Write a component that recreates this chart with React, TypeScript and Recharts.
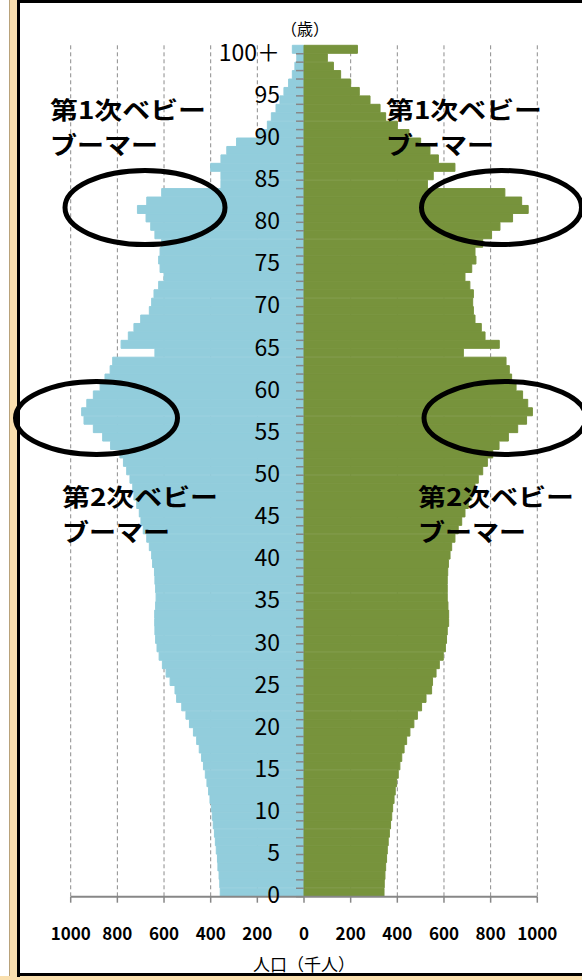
import { Bar, BarChart, CartesianGrid, Label, ReferenceLine, XAxis, YAxis } from 'recharts';

// age categories, bottom (0) to top (100+)
const ages: string[] = Array.from({ length: 100 }, (_, i) => String(i)).concat('100＋');

// population in thousands, index = age
const male = [
  359, 361, 364, 369, 371, 376, 380, 384, 389, 393,
  397, 403, 409, 416, 423, 431, 439, 449, 460, 474,
  491, 506, 524, 546, 553, 574, 591, 607, 621, 630,
  636, 639, 640, 640, 636, 634, 636, 639, 641, 649,
  653, 663, 674, 689, 699, 706, 717, 729, 734, 746,
  760, 774, 789, 829, 863, 903, 943, 953, 931, 903,
  874, 853, 831, 820, 639, 784, 753, 729, 700, 663,
  653, 643, 623, 600, 617, 623, 617, 610, 639, 657,
  677, 714, 674, 610, 356, 356, 400, 356, 331, 289,
  200, 157, 140, 120, 103, 86, 66, 50, 39, 31,
  50,
];

const female = [
  343, 344, 347, 350, 354, 357, 361, 366, 371, 376,
  380, 386, 391, 397, 404, 411, 419, 429, 440, 454,
  471, 486, 504, 523, 547, 551, 566, 580, 597, 606,
  611, 614, 620, 620, 617, 614, 614, 614, 616, 619,
  626, 633, 647, 661, 676, 690, 704, 719, 733, 747,
  766, 786, 809, 836, 876, 916, 954, 979, 959, 937,
  909, 890, 880, 866, 683, 837, 776, 760, 733, 726,
  723, 726, 711, 690, 719, 737, 733, 766, 804, 840,
  894, 961, 933, 861, 529, 554, 647, 576, 540, 500,
  450, 400, 350, 326, 283, 237, 200, 157, 126, 100,
  229,
];

const xTicks = [-1000, -800, -600, -400, -200, 0, 200, 400, 600, 800, 1000];

const rows = ages.map((age, i) => ({ age, male: -male[i], female: female[i] }));

const W = 582;
const H = 980;
const PLOT_LEFT = 70.7;
const PLOT_RIGHT = 537.3;
const PLOT_TOP = 45.3;
const PLOT_BOTTOM = 896.7;
const X_AXIS_H = 60;
const CENTER_X = (PLOT_LEFT + PLOT_RIGHT) / 2;
const BAND = (PLOT_BOTTOM - PLOT_TOP) / ages.length;

const font = '"Noto Sans CJK JP", "Noto Sans", sans-serif';
const axisGray = '#878787';
const blue = '#92cddc';
const green = '#77933c';

function AgeTick(props: any) {
  const { y, payload } = props;
  const label: string = payload.value;
  const showLabel = parseInt(label, 10) % 5 === 0;
  return (
    <g>
      <line x1={CENTER_X - 8} x2={CENTER_X} y1={y + BAND / 2} y2={y + BAND / 2} stroke={axisGray} strokeWidth={1.5} />
      {showLabel && (
        <text x={CENTER_X - 24} y={y + 1} textAnchor="end" dominantBaseline="central" fontSize={23} fill="#000" fontFamily={font}>
          {label}
        </text>
      )}
    </g>
  );
}

const notes = [
  { x: 50, y: 108, lines: ['第1次ベビー', 'ブーマー'] },
  { x: 386, y: 108, lines: ['第1次ベビー', 'ブーマー'] },
  { x: 62, y: 495, lines: ['第2次ベビー', 'ブーマー'] },
  { x: 418, y: 495, lines: ['第2次ベビー', 'ブーマー'] },
];
const noteWidths = [156, 108];

const rings = [
  { cx: 145, cy: 207.5, rx: 80, ry: 37 },
  { cx: 501.5, cy: 207.5, rx: 80, ry: 37 },
  { cx: 96.5, cy: 418, rx: 81, ry: 36.5 },
  { cx: 505, cy: 418, rx: 81, ry: 36.5 },
];

const chartMargin = { top: PLOT_TOP, left: PLOT_LEFT, right: W - PLOT_RIGHT, bottom: H - PLOT_BOTTOM - X_AXIS_H };

export default function App() {
  return (
    <div style={{ position: 'absolute', left: 0, top: 0, width: W, height: H, background: '#fff', overflow: 'hidden' }}>
      {/* frame */}
      <div style={{ position: 'absolute', left: 9, top: 0, width: 8, height: H, background: '#f9dfae', borderLeft: '1px solid #b9a27a' }} />
      <div style={{ position: 'absolute', left: 0, top: 976, width: W, height: 4, background: '#f9dfae' }} />
      <div style={{ position: 'absolute', left: 17, top: 0, width: 3, height: 977, background: '#000' }} />
      <div style={{ position: 'absolute', left: 17, top: 0, width: W, height: 3, background: '#000' }} />
      <div style={{ position: 'absolute', left: 17, top: 973, width: W, height: 3, background: '#000' }} />

      {/* bars, grid, x axis */}
      <div style={{ position: 'absolute', left: 0, top: 0 }}>
        <BarChart
          width={W}
          height={H}
          data={rows}
          layout="vertical"
          stackOffset="sign"
          barCategoryGap={0}
          barGap={0}
          margin={chartMargin}
        >
          <CartesianGrid horizontal={false} stroke="#8c8c8c" strokeDasharray="4 3" />
          <Bar dataKey="male" stackId="pop" fill={blue} stroke={blue} strokeWidth={1} isAnimationActive={false} />
          <Bar dataKey="female" stackId="pop" fill={green} stroke={green} strokeWidth={1} isAnimationActive={false} />
          <XAxis
            type="number"
            domain={[-1000, 1000]}
            ticks={xTicks}
            interval={0}
            height={X_AXIS_H}
            tickFormatter={(v: number) => String(Math.abs(v))}
            axisLine={{ stroke: axisGray, strokeWidth: 2 }}
            tickLine={{ stroke: axisGray, strokeWidth: 1.5 }}
            tickSize={6}
            tickMargin={25}
            tick={{ fill: '#000', fontSize: 17, fontWeight: 700, fontFamily: font }}
          >
            <Label value="人口（千人）" position="insideBottom" offset={-14} fill="#000" fontSize={17} fontFamily={font} />
          </XAxis>
          <YAxis type="category" dataKey="age" reversed hide />
        </BarChart>
      </div>

      {/* central age axis drawn on top of the bars */}
      <div style={{ position: 'absolute', left: 0, top: 0, pointerEvents: 'none' }}>
        <BarChart
          width={W}
          height={H}
          data={rows}
          layout="vertical"
          barCategoryGap={0}
          margin={{ top: PLOT_TOP, left: PLOT_LEFT - 1, right: W - PLOT_RIGHT, bottom: H - PLOT_BOTTOM }}
        >
          <XAxis type="number" domain={[-1000, 1000]} hide />
          <YAxis
            type="category"
            dataKey="age"
            reversed
            width={1}
            interval={0}
            axisLine={false}
            tickLine={false}
            tick={(p: any) => <AgeTick {...p} />}
          />
          <ReferenceLine x={0} stroke={axisGray} strokeWidth={2} />
        </BarChart>
      </div>

      <svg width={W} height={H} style={{ position: 'absolute', left: 0, top: 0, pointerEvents: 'none' }}>
        <text x={CENTER_X + 1} y={28} textAnchor="middle" dominantBaseline="central" fontSize={16} fontFamily={font} fill="#000">
          （歳）
        </text>
        {rings.map((r, i) => (
          <ellipse key={i} cx={r.cx} cy={r.cy} rx={r.rx} ry={r.ry} fill="none" stroke="#000" strokeWidth={5} />
        ))}
        {notes.map((n, i) =>
          n.lines.map((line, j) => (
            <text
              key={`${i}-${j}`}
              x={n.x}
              y={n.y + j * 35}
              dominantBaseline="central"
              fontSize={24}
              fontWeight={700}
              fontFamily={font}
              fill="#000"
              textLength={noteWidths[j]}
              lengthAdjust="spacingAndGlyphs"
            >
              {line}
            </text>
          ))
        )}
      </svg>
    </div>
  );
}
